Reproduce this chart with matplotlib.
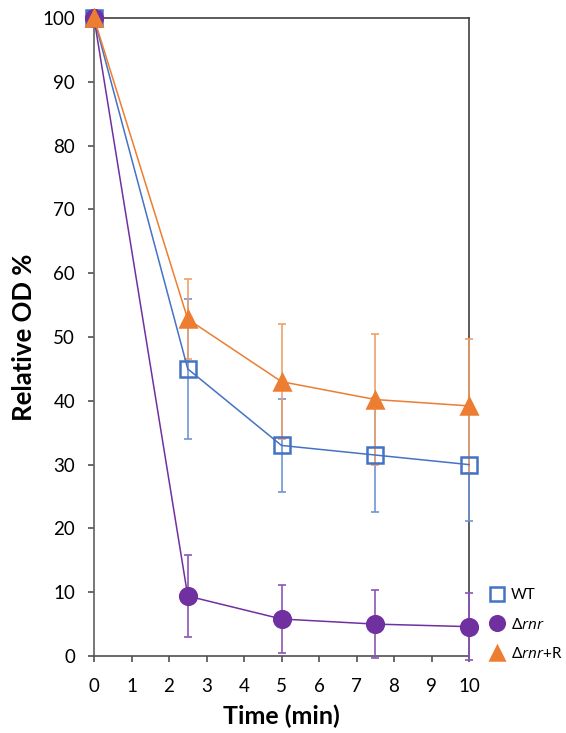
import matplotlib
matplotlib.use("Agg")
import matplotlib.pyplot as plt
from matplotlib.lines import Line2D

plt.rcParams['font.family'] = ['Lato', 'DejaVu Sans']
plt.rcParams['mathtext.fontset'] = 'custom'
plt.rcParams['mathtext.rm'] = 'Open Sans'
plt.rcParams['mathtext.it'] = 'Open Sans:italic'

time = [0, 2.5, 5, 7.5, 10]
wt = [100, 45, 33, 31.5, 30]
wt_err = [0, 11, 7.3, 9, 8.8]
rnr = [100, 9.4, 5.8, 5.0, 4.6]
rnr_err = [0, 6.4, 5.4, 5.3, 5.2]
rnrR = [100, 52.8, 43, 40.2, 39.2]
rnrR_err = [0, 6.3, 9, 10.2, 10.5]

labels = ['WT', 'Δ$\\it{rnr}$', 'Δ$\\it{rnr}$+R']
xticks = list(range(0, 11))
yticks = list(range(0, 101, 10))

c_wt = '#4472C4'
c_rnr = '#7030A0'
c_rnrR = '#ED7D31'

fig = plt.figure(figsize=(5.66, 7.33), dpi=100)
ax = fig.add_axes([94/566, 1-656/733, (469-94)/566, (656-18)/733])

series = [
    (wt, wt_err, c_wt, '#6E95D6', 's', 'none', 11),
    (rnr, rnr_err, c_rnr, '#8B55B8', 'o', c_rnr, 12),
    (rnrR, rnrR_err, c_rnrR, '#F0A06A', '^', c_rnrR, 12),
]
handles = []
for (y, e, c, ec, m, fc, ms), lab in zip(series, labels):
    ax.errorbar(time, y, yerr=e, fmt='none', ecolor=ec, elinewidth=1.2,
                capsize=2.8, capthick=1.2, zorder=3, clip_on=False)
    ax.plot(time, y, color=c, lw=1.1, marker=m, markersize=ms,
            markerfacecolor=fc, markeredgecolor=c, markeredgewidth=1.8,
            zorder=4, clip_on=False)
    handles.append(Line2D([], [], linestyle='none', marker=m,
                          markersize=ms - 1.5,
                          markerfacecolor=fc, markeredgecolor=c,
                          markeredgewidth=1.8, label=lab))

ax.set_xlim(0, 10)
ax.set_ylim(0, 100)
ax.set_xticks(xticks)
ax.set_yticks(yticks)
for s in ax.spines.values():
    s.set_color('#404040')
    s.set_linewidth(1.2)
    s.set_zorder(2)
ax.spines['left'].set_color('#606060')
ax.spines['bottom'].set_color('#505050')
ax.tick_params(direction='out', length=4.5, width=1.2, color='#505050',
               labelsize=13.5)
ax.tick_params(axis='x', pad=11)
ax.tick_params(axis='y', pad=9)
ax.set_xlabel('Time (min)', fontsize=18, fontweight='bold', labelpad=7)
ax.set_ylabel('Relative OD %', fontsize=18.5, fontweight='bold', labelpad=5)

fig.legend(handles=handles, loc='upper left',
           bbox_to_anchor=(482/566, 1-582/733), frameon=False,
           fontsize=11, handletextpad=0.3, labelspacing=0.95,
           borderaxespad=0, handlelength=1.2)

fig.savefig('out.png', dpi=100)
